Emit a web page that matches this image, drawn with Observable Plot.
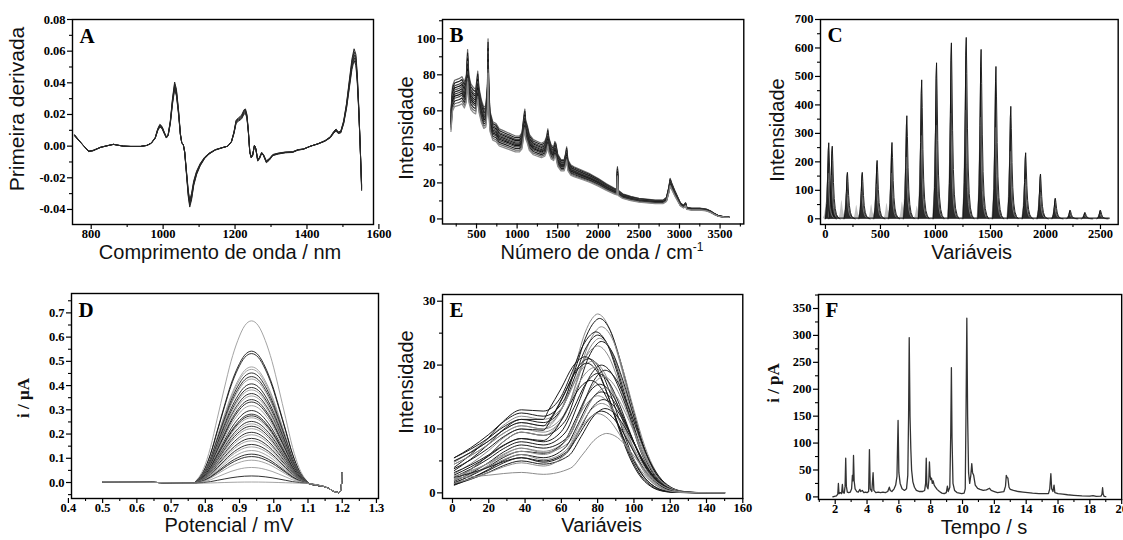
<!DOCTYPE html>
<html><head><meta charset="utf-8">
<script src="https://cdn.jsdelivr.net/npm/d3@7"></script>
<script src="https://cdn.jsdelivr.net/npm/@observablehq/plot@0.6"></script>
<style>
body{margin:0;background:#fff;}
#wrap{position:relative;width:1123px;height:540px;overflow:hidden;background:#fff;}
.ttl{position:absolute;white-space:nowrap;line-height:0.7;color:#111;}
</style></head><body><div id="wrap"></div>
<script>
// ---------- DATA ----------
// A: NIR first-derivative spectrum (nm, value) and sample scale factors
const nirBase = [[754,0.0072],[765,0.004],[778,0.0005],[793,-0.0035],[805,-0.003],[826,-0.0008],[845,0.0003],[862,0.0012],[875,0.0006],[890,0],[910,-0.0002],[937,-0.0002],[955,0.0005],[967,0.002],[978,0.0055],[985,0.011],[991,0.0138],[997,0.0125],[1003,0.009],[1009,0.0058],[1014,0.0075],[1020,0.016],[1026,0.03],[1032,0.0405],[1037,0.036],[1043,0.0225],[1048,0.008],[1052,0.002],[1056,0.0012],[1060,-0.004],[1065,-0.018],[1070,-0.032],[1074,-0.0385],[1079,-0.034],[1085,-0.025],[1093,-0.018],[1103,-0.0125],[1115,-0.008],[1128,-0.005],[1145,-0.0025],[1165,-0.001],[1180,0],[1190,0.003],[1197,0.009],[1203,0.0165],[1210,0.018],[1218,0.0195],[1225,0.023],[1229,0.0235],[1233,0.02],[1237,0.01],[1241,-0.004],[1245,-0.0075],[1249,-0.006],[1254,0.0005],[1258,-0.002],[1263,-0.0095],[1268,-0.008],[1274,-0.0045],[1279,-0.006],[1287,-0.0105],[1295,-0.009],[1305,-0.006],[1320,-0.005],[1340,-0.0042],[1360,-0.004],[1375,-0.0025],[1390,-0.002],[1410,0],[1430,0.0015],[1450,0.0035],[1465,0.006],[1475,0.0095],[1481,0.0108],[1487,0.009],[1494,0.0095],[1502,0.016],[1510,0.027],[1518,0.042],[1525,0.055],[1531,0.0615],[1536,0.058],[1540,0.045],[1544,0.025],[1548,0],[1552,-0.028]];
const nirScale = [1.0, 0.97, 0.94, 0.91, 0.88];

// B: Raman spectra upper envelope (cm-1, intensity) and sample scale factors
const ramanUpper = [[185,60],[205,74],[230,77],[260,77.5],[290,78],[320,79],[350,76],[375,80],[390,94],[405,80],[430,75],[460,73],[490,72],[515,82],[530,73],[560,66],[590,62],[615,63],[635,75],[642,100],[650,75],[665,60],[700,54],[740,53],[780,50],[830,49],[880,48],[930,47],[980,46],[1030,46],[1060,48],[1085,58],[1095,61],[1105,55],[1125,52],[1150,47],[1200,44],[1250,43],[1300,42],[1340,43],[1365,46],[1378,50],[1392,45],[1420,41],[1450,40],[1465,43],[1478,42],[1500,36],[1540,33],[1580,33],[1600,37],[1610,40],[1625,33],[1660,30],[1700,29],[1800,27],[1900,25],[2000,22.5],[2100,19.5],[2200,17],[2230,16.5],[2236,29],[2245,16],[2300,14],[2400,12.5],[2500,11.5],[2600,11],[2700,10.5],[2800,10.5],[2840,12],[2870,18],[2885,22.5],[2905,20],[2940,16],[2980,12],[3010,9],[3050,7.5],[3075,9],[3090,6.5],[3150,6],[3250,6],[3330,5.5],[3380,4.5],[3430,3],[3480,1.8],[3550,1.2],[3610,1.0]];
const ramanScale = [1.0, 0.98, 0.96, 0.945, 0.93, 0.915, 0.9, 0.885, 0.87, 0.85, 0.83, 0.81];
const ramanColor = ["#6a6a6a","#222","#444","#111","#555","#222","#333","#111","#444","#222","#666","#8a8a8a"];

// C: peak clusters (variable index, max intensity), shared peak shape
const cPeakX = [30, 62, 200, 335, 470, 605, 740, 875, 1010, 1145, 1280, 1415, 1550, 1685, 1820, 1955, 2090, 2225, 2360, 2500];
const cPeakY = [267, 255, 163, 163, 205, 268, 362, 488, 548, 618, 637, 595, 535, 395, 232, 157, 72, 30, 22, 30];
const cGrayX = [10, 150, 285, 420, 560, 700, 835];
const cGrayY = [58, 65, 48, 50, 55, 60, 45];
const cShapeDx = [-30, -18, -10, -4, 0, 5, 11, 18, 27, 38, 52, 70];
const cShapeF  = [0, 0.2, 0.55, 0.9, 1, 0.8, 0.5, 0.28, 0.14, 0.06, 0.02, 0];
const cRange = [0, 2580];

// D: voltammograms: potential grid, common baseline, peak shape, peak heights
const dX     = [0.5,0.6,0.7,0.765,0.775,0.795,0.815,0.835,0.855,0.875,0.895,0.915,0.935,0.955,0.975,0.995,1.015,1.035,1.055,1.075,1.095,1.105,1.15,1.19,1.196,1.2];
const dShape = [0,0,0,0,0.02,0.09,0.22,0.4,0.58,0.75,0.88,0.97,1,0.97,0.88,0.75,0.58,0.4,0.22,0.09,0.02,0,0,0,0,0];
const dBase  = [0.003,0.0015,-0.001,-0.003,-0.003,-0.003,-0.003,-0.003,-0.003,-0.003,-0.003,-0.003,-0.003,-0.003,-0.003,-0.003,-0.003,-0.003,-0.003,-0.003,-0.004,-0.005,-0.018,-0.042,-0.03,0.04];
const dAmp = [0.67,0.545,0.535,0.48,0.47,0.455,0.44,0.43,0.41,0.395,0.385,0.37,0.36,0.345,0.335,0.32,0.30,0.285,0.278,0.27,0.255,0.245,0.235,0.225,0.21,0.2,0.185,0.175,0.16,0.15,0.135,0.12,0.11,0.095,0.065,0.03,0.005];
const dGray = [1,0,0,1,1,0,0,1,0,0,1,0,1,0,0,1,0,0,0,1,0,1,0,1,0,1,0,1,0,1,1,0,0,1,1,0,1];

// E: fluorescence-like curves: peak, peak position, shoulder (x~38), valley (x~50), start (x=1)
const ePeak     = [28.0,27.3,26.0,25.2,24.7,24.2,23.7,23.0,21.3,21.0,20.6,20.3,20.0,19.6,19.2,18.7,18.2,17.6,17.0,16.4,15.8,15.2,14.6,14.0,13.2,12.8,12.4,9.3];
const ePeakX    = [80,81,82,79,80,81,82,80,73,75,77,74,82,78,84,80,83,76,81,84,82,80,83,82,84,82,80,85];
const eShoulder = [11.0,12.5,10.5,13.0,11.5,10.0,9.5,12.0,11.5,11.0,10.5,10.0,8.0,9.5,7.5,8.5,7.0,8.5,6.5,7.0,6.0,6.5,5.5,6.0,5.0,5.5,4.7,3.2];
const eValley   = [10.5,12.0,10.0,12.8,11.0,9.5,9.0,11.5,11.5,10.5,10.0,9.8,7.5,9.0,7.0,8.0,6.5,8.2,6.2,6.3,5.5,6.0,5.0,5.2,4.5,4.8,4.2,2.9];
const eStart    = [5.0,5.5,4.5,4.0,3.5,3.0,2.0,4.8,5.5,5.0,4.5,3.8,2.5,2.0,1.8,2.8,1.5,3.2,1.6,2.2,1.2,2.6,1.4,2.0,1.3,2.4,1.5,2.3];
const eGray     = [1,0,1,0,0,1,0,1,0,0,1,0,0,1,0,0,1,0,0,1,0,1,0,1,0,0,1,1];
const eRiseX = [1, 10, 20, 28, 38, 50];
const eRiseF = [0, 0.22, 0.52, 0.8, 1];
const eLeftDx = [-20, -13, -7, -3], eLeftF = [0.15, 0.5, 0.83, 0.96];
const eRightDx = [6, 12, 18, 24, 30, 36, 42, 50], eRightF = [0.93, 0.74, 0.5, 0.28, 0.13, 0.05, 0.015, 0.003];

// F: chromatogram (time s, current pA)
const chromatogram = [[1.85,0],[1.95,1],[2.08,2],[2.16,5],[2.2,25],[2.24,6],[2.32,8],[2.4,6],[2.45,23],[2.5,8],[2.57,7],[2.62,20],[2.66,72],[2.7,20],[2.76,9],[2.85,8],[2.95,9],[3.03,15],[3.08,40],[3.12,30],[3.15,77],[3.19,30],[3.25,15],[3.35,10],[3.45,9],[3.55,14],[3.6,10],[3.7,12],[3.8,8],[3.9,9],[4.0,8],[4.1,10],[4.15,88],[4.2,15],[4.3,10],[4.38,45],[4.43,12],[4.55,8],[4.7,9],[4.85,8],[5.0,9],[5.15,8],[5.3,10],[5.4,18],[5.46,12],[5.56,10],[5.7,15],[5.8,22],[5.88,38],[5.95,142],[6.0,45],[6.08,25],[6.2,15],[6.35,12],[6.48,15],[6.56,40],[6.61,150],[6.65,296],[6.7,150],[6.75,90],[6.8,50],[6.88,28],[6.98,18],[7.1,12],[7.3,10],[7.5,10],[7.62,12],[7.68,25],[7.72,72],[7.76,20],[7.83,15],[7.88,30],[7.92,65],[7.96,40],[8.0,32],[8.05,35],[8.1,25],[8.15,30],[8.22,22],[8.3,18],[8.4,14],[8.55,10],[8.7,7],[8.85,6],[8.98,8],[9.05,20],[9.1,10],[9.2,18],[9.26,120],[9.3,240],[9.34,110],[9.4,25],[9.5,12],[9.65,8],[9.8,7],[9.95,6],[10.1,7],[10.17,15],[10.22,160],[10.27,332],[10.32,150],[10.38,45],[10.45,25],[10.52,40],[10.58,62],[10.63,45],[10.7,40],[10.8,22],[10.95,16],[11.1,14],[11.3,12],[11.5,13],[11.7,16],[11.8,12],[12.0,10],[12.2,8],[12.4,9],[12.6,10],[12.7,20],[12.75,40],[12.8,36],[12.85,35],[12.92,18],[13.0,14],[13.2,12],[13.5,10],[13.8,9],[14.1,8],[14.4,7],[14.8,6],[15.1,6],[15.4,6],[15.48,15],[15.55,43],[15.6,15],[15.68,10],[15.75,22],[15.8,8],[16.0,6],[16.3,5],[16.6,4],[17.0,3],[17.5,2],[18.0,1.5],[18.2,2.5],[18.4,1],[18.7,1.5],[18.76,5],[18.8,17],[18.84,5],[18.9,1],[19.0,0.5]];

// Ticks
const aXMaj=[800,1000,1200,1400,1600], aXMin=[900,1100,1300,1500];
const aYMaj=[-0.04,-0.02,0,0.02,0.04,0.06,0.08], aYMin=[-0.03,-0.01,0.01,0.03,0.05,0.07];
const bXMaj=[500,1000,1500,2000,2500,3000,3500], bXMin=[250,750,1250,1750,2250,2750,3250,3750];
const bYMaj=[0,20,40,60,80,100], bYMin=[10,30,50,70,90,110];
const cXMaj=[0,500,1000,1500,2000,2500], cXMin=[250,750,1250,1750,2250];
const cYMaj=[0,100,200,300,400,500,600,700], cYMin=[50,150,250,350,450,550,650];
const dXMaj=[0.4,0.5,0.6,0.7,0.8,0.9,1.0,1.1,1.2,1.3], dXMin=[0.45,0.55,0.65,0.75,0.85,0.95,1.05,1.15,1.25];
const dYMaj=[0,0.1,0.2,0.3,0.4,0.5,0.6,0.7], dYMin=[-0.05,0.05,0.15,0.25,0.35,0.45,0.55,0.65,0.75];
const eXMaj=[0,20,40,60,80,100,120,140,160], eXMin=[10,30,50,70,90,110,130,150];
const eYMaj=[0,10,20,30], eYMin=[5,15,25];
const fXMaj=[2,4,6,8,10,12,14,16,18,20], fXMin=[1,3,5,7,9,11,13,15,17,19];
const fYMaj=[0,50,100,150,200,250,300,350], fYMin=[25,75,125,175,225,275,325,375];

// ---------- RENDER ----------
const SERIF = "'Liberation Serif','Times New Roman',serif";
const SANS = "'Liberation Sans',Arial,Helvetica,sans-serif";
const wrap = document.getElementById("wrap");

function panel(cfg) {
  const ml = 70, mr = 16, mt = 8, mb = 44;
  const [x0, y0, x1, y1] = cfg.frame;
  const fw = x1 - x0, fh = y1 - y0;
  const svg = Plot.plot({
    width: fw + ml + mr, height: fh + mt + mb,
    marginLeft: ml, marginRight: mr, marginTop: mt, marginBottom: mb,
    x: {domain: cfg.xd, label: null},
    y: {domain: cfg.yd, label: null},
    color: {type: "identity"},
    style: {background: "transparent", overflow: "visible", color: "#000"},
    marks: [
      ...cfg.marks,
      Plot.axisX({ticks: cfg.xMin, tickSize: 3, tickFormat: () => "", label: null, strokeWidth: 1.1}),
      Plot.axisX({ticks: cfg.xMaj, tickSize: 5, tickPadding: 0, tickFormat: cfg.xFmt, label: null, strokeWidth: 1.2, fill: "#000"}),
      Plot.axisY({ticks: cfg.yMin, tickSize: 3, tickFormat: () => "", label: null, strokeWidth: 1.1}),
      Plot.axisY({ticks: cfg.yMaj, tickSize: 5, tickPadding: 2, tickFormat: cfg.yFmt, label: null, strokeWidth: 1.2, fill: "#000"}),
      Plot.frame({stroke: "#000", strokeWidth: 1.4}),
      Plot.text([cfg.letter], {text: d => d, frameAnchor: "top-left", dx: 7, dy: 23, lineAnchor: "bottom", textAnchor: "start", fontSize: 21, fontWeight: "bold", fontFamily: SERIF, fill: "#000"})
    ]
  });
  // tick labels: bold serif
  svg.querySelectorAll("text").forEach(t => {
    t.style.fontFamily = SERIF;
    t.style.fontWeight = "bold";
  });
  svg.querySelectorAll("g[aria-label*='tick label']").forEach(g => {
    g.querySelectorAll("text").forEach(t => { t.style.fontSize = "12.5px"; });
  });
  svg.style.position = "absolute";
  svg.style.left = (x0 - ml) + "px";
  svg.style.top = (y0 - mt) + "px";
  wrap.appendChild(svg);
}

function title(html, cx, cy, rot, font, size, weight) {
  const d = document.createElement("div");
  d.className = "ttl";
  d.innerHTML = html;
  d.style.left = cx + "px"; d.style.top = cy + "px";
  d.style.fontFamily = font; d.style.fontSize = size + "px"; d.style.fontWeight = weight || "normal";
  d.style.transform = "translate(-50%,-50%)" + (rot ? " rotate(-90deg)" : "");
  wrap.appendChild(d);
}

const f0 = d => d.toFixed(0), f1 = d => d.toFixed(1), f2 = d => d.toFixed(2);

// Panel A
const aRows = nirScale.flatMap((s, k) => nirBase.map(([x, y]) => ({x, y: y * s, k})));
panel({frame: [72, 19, 373, 224], xd: [748, 1585], yd: [-0.0495, 0.08], letter: "A",
  xMaj: aXMaj, xMin: aXMin, yMaj: aYMaj, yMin: aYMin, xFmt: f0, yFmt: f2,
  marks: [Plot.line(aRows, {x: "x", y: "y", z: "k", stroke: "#262626", strokeWidth: 1})]});

// Panel B
const bRows = ramanScale.flatMap((s, k) => ramanUpper.map(([x, y]) => ({x, y: y * s, k, c: ramanColor[k]})));
panel({frame: [441.7, 19, 743, 223.5], xd: [81, 3792], yd: [-2.8, 110.7], letter: "B",
  xMaj: bXMaj, xMin: bXMin, yMaj: bYMaj, yMin: bYMin, xFmt: f0, yFmt: f0,
  marks: [Plot.line(bRows, {x: "x", y: "y", z: "k", stroke: "c", strokeWidth: 1.2})]});

// Panel C
const cRows = cPeakX.flatMap((px, k) => cShapeDx.map((dx, j) => ({x: px + dx, y: cPeakY[k] * cShapeF[j], k})));
const cInner = cPeakX.flatMap((px, k) => cShapeDx.map((dx, j) => ({x: px + dx - 7, y: cPeakY[k] * 0.6 * cShapeF[j], k})));
const cGray = cGrayX.flatMap((px, k) => cShapeDx.map((dx, j) => ({x: px + dx, y: cGrayY[k] * cShapeF[j], k})));
panel({frame: [820, 19, 1117.7, 224], xd: [-45, 2661], yd: [-20, 700], letter: "C",
  xMaj: cXMaj, xMin: cXMin, yMaj: cYMaj, yMin: cYMin, xFmt: f0, yFmt: f0,
  marks: [
    Plot.areaY(cGray, {x: "x", y: "y", z: "k", fill: "#c4c4c4"}),
    Plot.areaY(cRows, {x: "x", y: "y", z: "k", fill: "#2b2b2b"}),
    Plot.line(cInner, {x: "x", y: "y", z: "k", stroke: "#8a8a8a", strokeWidth: 0.8}),
    Plot.line(cRows, {x: "x", y: "y", z: "k", stroke: "#111", strokeWidth: 0.9}),
    Plot.line(cRange.map(x => ({x, y: 2})), {x: "x", y: "y", stroke: "#222", strokeWidth: 1.2})
  ]});

// Panel D
const dRows = dAmp.flatMap((a, k) => dX.map((x, i) => ({x, y: dBase[i] + a * dShape[i], k, c: dGray[k] ? "#9a9a9a" : "#1a1a1a"})));
panel({frame: [71, 293.3, 378, 498.3], xd: [0.409, 1.306], yd: [-0.066, 0.78], letter: "D",
  xMaj: dXMaj, xMin: dXMin, yMaj: dYMaj, yMin: dYMin, xFmt: f1, yFmt: f1,
  marks: [Plot.line(dRows, {x: "x", y: "y", z: "k", stroke: "c", strokeWidth: 0.9, curve: "monotone-x"})]});

// Panel E
const eRows = [];
ePeak.forEach((p, k) => {
  const s = eShoulder[k], v = eValley[k], y0 = eStart[k], px = ePeakX[k];
  const c = eGray[k] ? "#8c8c8c" : "#1a1a1a";
  const pts = [];
  eRiseF.forEach((f, j) => pts.push([eRiseX[j], y0 + (s - y0) * f]));
  pts.push([eRiseX[5], v]);
  eLeftDx.forEach((dx, j) => pts.push([px + dx, v + (p - v) * eLeftF[j]]));
  pts.push([px, p]);
  eRightDx.forEach((dx, j) => pts.push([px + dx, p * eRightF[j]]));
  pts.push([150, 0]);
  pts.forEach(([x, y]) => eRows.push({x, y, k, c}));
});
panel({frame: [441.7, 294.3, 742, 498.3], xd: [-5.5, 160], yd: [-0.88, 31.05], letter: "E",
  xMaj: eXMaj, xMin: eXMin, yMaj: eYMaj, yMin: eYMin, xFmt: f0, yFmt: f0,
  marks: [Plot.line(eRows, {x: "x", y: "y", z: "k", stroke: "c", strokeWidth: 1, curve: "monotone-x"})]});

// Panel F
panel({frame: [818.3, 294.3, 1121.5, 499.3], xd: [0.95, 20], yd: [-4.8, 376], letter: "F",
  xMaj: fXMaj, xMin: fXMin, yMaj: fYMaj, yMin: fYMin, xFmt: f0, yFmt: f0,
  marks: [Plot.line(chromatogram, {x: d => d[0], y: d => d[1], stroke: "#333", strokeWidth: 1.3})]});

// Axis titles
title("Comprimento de onda / nm", 220, 252, false, SANS, 20);
title("Número de onda / cm<span style=\"position:relative;top:-8px;font-size:12px\">-1</span>", 602, 252, false, SANS, 20);
title("Variáveis", 971.7, 252, false, SANS, 20);
title("Potencial / mV", 229, 525, false, SANS, 20);
title("Variáveis", 601.7, 525, false, SANS, 20);
title("Tempo / s", 984, 526.5, false, SANS, 20);
title("Primeira derivada", 17.4, 109, true, SANS, 21);
title("Intensidade", 405.7, 128.3, true, SANS, 20);
title("Intensidade", 777.4, 130, true, SANS, 20);
title("i / µA", 23.8, 398, true, SERIF, 17, "bold");
title("Intensidade", 405.7, 381.7, true, SANS, 20);
title("i / pA", 773.5, 383, true, SERIF, 17, "bold");
</script></body></html>
